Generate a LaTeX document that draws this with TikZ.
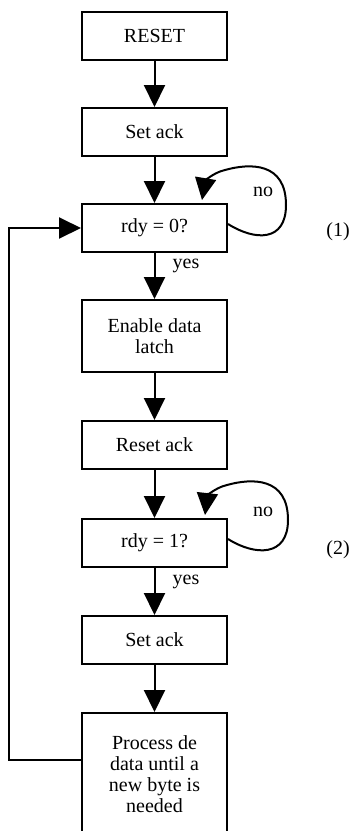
\documentclass[tikz,border=0pt]{standalone}
\usepackage{fontspec}
\setmainfont{Liberation Serif}
\usetikzlibrary{arrows.meta}
\begin{document}
\begin{tikzpicture}[x=1pt,y=-1pt,
  box/.style={draw, line width=2pt, minimum width=145pt, minimum height=48pt, inner sep=2pt,
    align=center, font=\fontsize{20}{21}\selectfont},
  lbl/.style={font=\fontsize{20}{21}\selectfont, inner sep=0pt},
  flow/.style={line width=2pt, -{Triangle[width=21pt,length=22pt]}},
  fb/.style={line width=1.5pt}]
\useasboundingbox (0,0) rectangle (356,831);
\clip (0,0) rectangle (356,831);
\fill[white] (0,0) rectangle (356,831);

\node[box] (reset) at (154.5,36) {RESET};
\node[box] (set1) at (154.5,132) {Set ack};
\node[box] (rdy0) at (154.5,228) {rdy = 0?};
\node[box, minimum height=72pt] (enable) at (154.5,336) {Enable data\\latch};
\node[box] (rack) at (154.5,445) {Reset ack};
\node[box] (rdy1) at (154.5,543) {rdy = 1?};
\node[box] (set2) at (154.5,640) {Set ack};
\node[box, minimum height=122pt] (proc) at (154.5,774) {Process de\\data until a\\new byte is\\needed};

\draw[flow] (reset) -- (set1);
\draw[flow] (set1) -- (rdy0);
\draw[flow] (rdy0) -- (enable);
\draw[flow] (enable) -- (rack);
\draw[flow] (rack) -- (rdy1);
\draw[flow] (rdy1) -- (set2);
\draw[flow] (set2) -- (proc);

% no-loops
\coordinate (t1) at (202,200);
\coordinate (t2) at (205,515);
\draw[flow] ([yshift=4pt]rdy0.east) .. controls (255,241) and (286,242) .. (286,205)
  .. controls (286,162) and (250,163) .. (225,170)
  .. controls (212,173) and (205,182) .. (t1);
\draw[flow] ([yshift=4pt]rdy1.east) .. controls (255,556) and (288,557) .. (288,520)
  .. controls (288,477) and (252,478) .. (227,485)
  .. controls (214,488) and (207,497) .. (t2);

\node[lbl] (no1) at (263,192) {no};
\node[lbl] (no2) at (263,512) {no};
\node[lbl] (yes1) at (186,266) {yes};
\node[lbl] (yes2) at (186,582) {yes};
\node[lbl] (c1) at (338,232) {(1)};
\node[lbl] (c2) at (338,550) {(2)};

% feedback
\coordinate (f1) at (9,760);
\coordinate (f2) at (9,228);
\draw[fb] (proc.west |- f1) -- (f1) -- (f2) -- ++(40,0);
\draw[flow] (f2) -- (rdy0.west);
\end{tikzpicture}
\end{document}
